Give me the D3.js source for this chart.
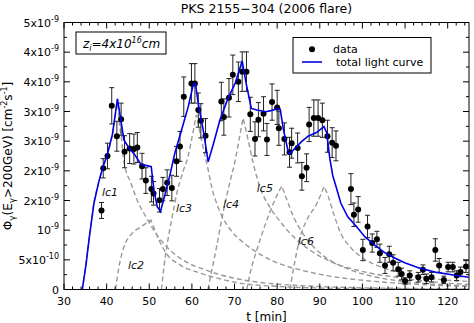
<!DOCTYPE html>
<html>
<head>
<meta charset="utf-8">
<script src="https://cdn.jsdelivr.net/npm/d3@7"></script>
<style>
  body { margin: 0; background: #fff; }
  svg { display: block; font-family: "DejaVu Sans", sans-serif; }
</style>
</head>
<body>
<script>
// PKS 2155-304, July 2006 flare: flux above 200 GeV in units of 1e-9 cm^-2 s^-1
const obsTime = [38.8, 39.2, 40.2, 41.2, 42.4, 43.4, 44.2, 45.4, 46.4, 47.2, 48.3, 49.2, 50.5, 51.0, 52.4, 53.2, 54.2, 55.3, 56.4, 57.2,
  58.1, 59.9, 60.7, 61.5, 62.1, 63.2, 66.9, 67.5, 68.7, 69.6, 70.9, 71.8, 72.8, 73.7, 74.8, 75.6, 76.8, 77.6, 78.8, 80.0,
  80.4, 81.7, 82.9, 83.4, 84.8, 85.8, 86.9, 87.5, 88.6, 89.6, 90.6, 91.8, 92.9, 93.8, 97.3, 98.0, 99.0, 100.1, 101.2, 102.3,
  103.4, 104.1, 105.3, 106.3, 107.2, 108.4, 109.2, 110.0, 111.1, 113.1, 114.2, 115.0, 116.2, 117.1, 118.0, 119.1, 120.1, 121.2, 122.1, 123.0, 124.3];
const obsFlux = [1.48, 2.27, 2.50, 3.44, 2.87, 3.19, 2.58, 2.64, 2.63, 2.66, 2.31, 2.04, 1.88, 1.80, 1.67, 1.88, 2.00, 1.90, 2.40, 2.68,
  3.61, 3.86, 3.86, 3.36, 3.16, 2.88, 3.52, 3.23, 3.59, 4.02, 3.89, 4.08, 4.08, 3.28, 2.82, 3.18, 3.29, 2.81, 3.51, 3.41,
  3.02, 2.82, 2.57, 2.74, 2.65, 2.12, 2.28, 3.09, 3.21, 3.21, 3.17, 2.87, 2.75, 2.69, 1.88, 1.40, 1.50, 0.74, 1.18, 0.87,
  0.94, 0.68, 0.45, 0.66, 0.50, 0.38, 0.29, 0.16, 0.26, 0.23, 0.37, 0.20, 0.23, 0.74, 0.45, 0.18, 0.42, 0.42, 0.26, 0.33, 0.43];
const obsErr = [0.15, 0.18, 0.24, 0.34, 0.28, 0.30, 0.30, 0.28, 0.28, 0.28, 0.24, 0.24, 0.24, 0.22, 0.22, 0.22, 0.24, 0.24, 0.28, 0.28,
  0.37, 0.37, 0.37, 0.32, 0.32, 0.32, 0.36, 0.34, 0.36, 0.37, 0.37, 0.37, 0.37, 0.32, 0.32, 0.32, 0.32, 0.30, 0.34, 0.32,
  0.32, 0.30, 0.28, 0.28, 0.28, 0.26, 0.26, 0.32, 0.34, 0.34, 0.32, 0.30, 0.28, 0.28, 0.29, 0.22, 0.24, 0.20, 0.21, 0.17,
  0.15, 0.17, 0.15, 0.15, 0.15, 0.13, 0.11, 0.06, 0.09, 0.09, 0.09, 0.09, 0.09, 0.21, 0.13, 0.07, 0.09, 0.09, 0.09, 0.09, 0.11];

// summed model
const totalTime = [34.29, 35.16, 35.86, 37.03, 38.20, 39.14, 40.08, 41.37, 42.54, 43.36, 44.06, 45.23, 46.64, 48.05, 49.45, 50.46,
  51.09, 51.87, 52.62, 53.67, 54.84, 56.02, 57.59, 59.13, 60.30, 60.82, 61.52, 62.65, 63.82, 64.99, 66.56, 68.32, 70.19, 71.79,
  72.73, 73.52, 73.95, 75.23, 77.34, 78.52, 79.85, 80.70, 81.49, 82.62, 82.97, 84.14, 85.71, 87.26, 89.23, 90.98, 91.64, 92.34,
  93.05, 93.91, 94.92, 96.56, 98.60, 100.55, 102.89, 105.23, 107.58, 109.92, 113.44, 117.42, 121.33, 124.92];
const totalFlux = [0, 0.46, 0.93, 1.62, 2.03, 2.30, 2.50, 2.91, 3.57, 3.16, 2.80, 2.65, 2.52, 2.34, 2.32, 2.30,
  1.86, 1.55, 1.46, 1.77, 2.14, 2.56, 2.99, 3.42, 3.83, 3.86, 3.47, 2.99, 2.39, 2.71, 3.17, 3.55, 3.87, 4.28,
  3.86, 3.55, 3.39, 3.36, 3.33, 3.35, 3.38, 3.38, 2.99, 2.57, 2.54, 2.64, 2.77, 2.87, 2.94, 3.05, 2.93, 2.46,
  2.13, 1.90, 1.62, 1.36, 1.18, 0.99, 0.83, 0.69, 0.59, 0.50, 0.40, 0.32, 0.27, 0.23];

// individual flare components lc1..lc6
const lc1Time = [34.29, 35.86, 37.03, 38.20, 39.14, 40.08, 41.37, 42.54, 42.89, 43.48, 44.06, 45.70, 47.34, 49.22, 51.80, 54.84, 58.36, 63.05, 68.91, 75.23, 85.31, 97.03, 108.75, 124.92];
const lc1Flux = [0, 0.93, 1.62, 2.03, 2.30, 2.50, 2.91, 3.57, 3.17, 2.84, 2.39, 1.99, 1.64, 1.36, 1.02, 0.74, 0.53, 0.37, 0.23, 0.14, 0.075, 0.037, 0.022, 0.01];
const lc2Time = [42.07, 42.89, 44.06, 45.63, 47.98, 50.39, 51.33, 52.50, 54.14, 57.19, 61.88, 66.56, 71.25, 80.63, 94.69, 124.92];
const lc2Flux = [0, 0.42, 0.80, 1.02, 1.17, 1.30, 1.11, 0.89, 0.66, 0.46, 0.31, 0.20, 0.12, 0.056, 0.022, 0.004];
const lc3Time = [52.85, 53.44, 54.21, 55.38, 56.55, 57.89, 59.06, 60.00, 61.05, 61.87, 62.65, 63.82, 64.69, 65.86, 67.27, 69.14, 72.19, 76.17, 80.63, 85.31, 92.34, 101.72, 113.44, 124.92];
const lc3Flux = [0, 0.42, 0.85, 1.36, 1.83, 2.20, 2.48, 2.84, 3.27, 2.95, 2.65, 2.24, 1.90, 1.60, 1.34, 1.11, 0.87, 0.65, 0.48, 0.37, 0.25, 0.16, 0.094, 0.056];
const lc4Time = [63.75, 64.69, 65.79, 67.34, 68.91, 70.08, 71.25, 72.02, 73.20, 74.37, 75.94, 78.28, 80.63, 83.67, 87.66, 92.34, 99.38, 108.75, 118.13, 124.92];
const lc4Flux = [0, 0.37, 0.80, 1.45, 2.01, 2.39, 2.89, 3.21, 2.80, 2.37, 1.92, 1.54, 1.28, 1.00, 0.74, 0.53, 0.35, 0.22, 0.13, 0.094];
const lc5Time = [72.89, 73.66, 75.23, 77.18, 79.15, 81.09, 82.27, 83.84, 85.78, 88.52, 92.34, 97.03, 103.36, 109.69, 118.13, 124.92];
const lc5Flux = [0, 0.31, 0.74, 1.21, 1.62, 1.94, 1.68, 1.36, 1.08, 0.80, 0.55, 0.37, 0.23, 0.15, 0.094, 0.066];
const lc6Time = [82.97, 84.21, 85.38, 86.95, 89.30, 91.01, 92.04, 93.21, 94.76, 97.10, 100.24, 104.13, 109.69, 115.78, 124.92];
const lc6Flux = [0, 0.55, 0.98, 1.30, 1.61, 1.93, 1.73, 1.43, 1.08, 0.80, 0.58, 0.43, 0.30, 0.21, 0.15];

const lcNames = ["lc1", "lc2", "lc3", "lc4", "lc5", "lc6"];
const lcLabelTime = [38.9, 45.0, 56.25, 67.27, 75.23, 84.84];
const lcLabelFlux = [1.75, 0.38, 1.45, 1.53, 1.83, 0.83];

const xTicks = [30, 40, 50, 60, 70, 80, 90, 100, 110, 120];
const yTickMant = ["0", "5x10", "10", "2x10", "2x10", "3x10", "3x10", "4x10", "4x10", "5x10"];
const yTickExp = ["", "-10", "-9", "-9", "-9", "-9", "-9", "-9", "-9", "-9"];

const W = 474, H = 323;
const m = { left: 64, right: 5, top: 22.5, bottom: 33.5 };

const svg = d3.select("body").append("svg")
  .attr("width", W)
  .attr("height", H);

const x = d3.scaleLinear().domain([30, 125]).range([m.left, W - m.right]);
const y = d3.scaleLinear().domain([0, 5]).range([H - m.bottom, m.top]);

const yStep = 5 / 9;
const yMajor = d3.range(10).map(i => i * yStep);
const yMinor = d3.range(9).map(i => (i + 0.5) * yStep);
const xMinor = d3.range(30, 126, 2).filter(v => v % 10 !== 0);

const plot = svg.append("g");

plot.append("defs").append("clipPath").attr("id", "clip")
  .append("rect")
  .attr("x", x(30)).attr("y", y(5))
  .attr("width", x(125) - x(30)).attr("height", y(0) - y(5));

const line = d3.line().x(d => x(d[0])).y(d => y(d[1]));

// components: rising branch and decaying branch joined at the cusp
const comps = [[lc1Time, lc1Flux], [lc2Time, lc2Flux], [lc3Time, lc3Flux], [lc4Time, lc4Flux], [lc5Time, lc5Flux], [lc6Time, lc6Flux]];
const smooth = d3.line().x(d => x(d[0])).y(d => y(d[1])).curve(d3.curveMonotoneX);
const gComp = plot.append("g").attr("clip-path", "url(#clip)");
comps.forEach(([ts, fs]) => {
  const pts = ts.map((t, i) => [t, fs[i]]);
  const k = d3.maxIndex(fs);
  const d = smooth(pts.slice(0, k + 1)) + smooth(pts.slice(k)).replace(/^M/, "L");
  gComp.append("path")
    .attr("d", d)
    .attr("fill", "none")
    .attr("stroke", "#999")
    .attr("stroke-width", 1.4)
    .attr("stroke-dasharray", "5,3");
});

// error bars and points
const obs = obsTime.map((t, i) => ({ t, f: obsFlux[i], e: obsErr[i] }));
const gObs = plot.append("g");
gObs.selectAll("line.eb").data(obs).join("line")
  .attr("x1", d => x(d.t)).attr("x2", d => x(d.t))
  .attr("y1", d => y(Math.max(0, d.f - d.e))).attr("y2", d => y(d.f + d.e))
  .attr("stroke", "#222").attr("stroke-width", 1);
[-1, 1].forEach(s => {
  gObs.selectAll("line.cap" + s).data(obs).join("line")
    .attr("x1", d => x(d.t) - 2.5).attr("x2", d => x(d.t) + 2.5)
    .attr("y1", d => y(Math.max(0, d.f + s * d.e))).attr("y2", d => y(Math.max(0, d.f + s * d.e)))
    .attr("stroke", "#222").attr("stroke-width", 1);
});
gObs.selectAll("circle").data(obs).join("circle")
  .attr("cx", d => x(d.t)).attr("cy", d => y(d.f))
  .attr("r", 3).attr("fill", "#000");

// total light curve
plot.append("path")
  .datum(totalTime.map((t, i) => [t, totalFlux[i]]))
  .attr("d", line)
  .attr("clip-path", "url(#clip)")
  .attr("fill", "none")
  .attr("stroke", "#0000e6")
  .attr("stroke-width", 1.6);

// component labels
lcNames.forEach((n, i) => {
  plot.append("text")
    .attr("x", x(lcLabelTime[i])).attr("y", y(lcLabelFlux[i]))
    .attr("font-size", 11).attr("font-style", "italic")
    .attr("fill", "#111")
    .text(n);
});

// frame and inward ticks on all sides
const x0 = x(30), x1 = x(125), y0 = y(0), y1 = y(5);
const ticks = svg.append("g").attr("stroke", "#000").attr("stroke-width", 1);
xTicks.forEach(v => {
  ticks.append("line").attr("x1", x(v)).attr("x2", x(v)).attr("y1", y0).attr("y2", y0 - 6);
  ticks.append("line").attr("x1", x(v)).attr("x2", x(v)).attr("y1", y1).attr("y2", y1 + 6);
});
xMinor.forEach(v => {
  ticks.append("line").attr("x1", x(v)).attr("x2", x(v)).attr("y1", y0).attr("y2", y0 - 3);
  ticks.append("line").attr("x1", x(v)).attr("x2", x(v)).attr("y1", y1).attr("y2", y1 + 3);
});
yMajor.forEach(v => {
  ticks.append("line").attr("x1", x0).attr("x2", x0 + 6).attr("y1", y(v)).attr("y2", y(v));
  ticks.append("line").attr("x1", x1).attr("x2", x1 - 6).attr("y1", y(v)).attr("y2", y(v));
});
yMinor.forEach(v => {
  ticks.append("line").attr("x1", x0).attr("x2", x0 + 3).attr("y1", y(v)).attr("y2", y(v));
  ticks.append("line").attr("x1", x1).attr("x2", x1 - 3).attr("y1", y(v)).attr("y2", y(v));
});
svg.append("rect")
  .attr("x", x0).attr("y", y1)
  .attr("width", x1 - x0).attr("height", y0 - y1)
  .attr("fill", "none").attr("stroke", "#000").attr("stroke-width", 1);

// tick labels
xTicks.forEach(v => {
  svg.append("text")
    .attr("x", x(v)).attr("y", y0 + 15)
    .attr("text-anchor", "middle").attr("font-size", 11)
    .text(v);
});
yMajor.forEach((v, i) => {
  const t = svg.append("text")
    .attr("x", x0 - 5).attr("y", y(v) + 4)
    .attr("text-anchor", "end").attr("font-size", 11);
  t.append("tspan").text(yTickMant[i]);
  if (yTickExp[i]) t.append("tspan").attr("dy", -5).attr("font-size", 8).text(yTickExp[i]);
});

// title and axis titles
svg.append("text")
  .attr("x", (x0 + x1) / 2).attr("y", 13)
  .attr("text-anchor", "middle").attr("font-size", 12.5)
  .text("PKS 2155\u2212304 (2006 flare)");

svg.append("text")
  .attr("x", (x0 + x1) / 2).attr("y", 321)
  .attr("text-anchor", "middle").attr("font-size", 12)
  .text("t [min]");

const yl = svg.append("text")
  .attr("transform", `translate(12,${(y0 + y1) / 2}) rotate(-90)`)
  .attr("text-anchor", "middle").attr("font-size", 12);
yl.append("tspan").text("\u03A6");
yl.append("tspan").attr("dy", 3).attr("font-size", 9).text("\u03B3");
yl.append("tspan").attr("dy", -3).text("(E");
yl.append("tspan").attr("dy", 3).attr("font-size", 9).text("\u03B3");
yl.append("tspan").attr("dy", -3).text(">200GeV) [cm");
yl.append("tspan").attr("dy", -5).attr("font-size", 8).text("-2");
yl.append("tspan").attr("dy", 5).text("s");
yl.append("tspan").attr("dy", -5).attr("font-size", 8).text("-1");
yl.append("tspan").attr("dy", 5).text("]");

// emission-region size box
svg.append("rect")
  .attr("x", 76).attr("y", 32).attr("width", 90).attr("height", 22)
  .attr("fill", "#fff").attr("stroke", "#000").attr("stroke-width", 1);
const zt = svg.append("text")
  .attr("x", 83).attr("y", 48)
  .attr("font-size", 12).attr("font-style", "italic");
zt.append("tspan").text("z");
zt.append("tspan").attr("dy", 3).attr("font-size", 8).text("i");
zt.append("tspan").attr("dy", -3).text("=4x10");
zt.append("tspan").attr("dy", -5).attr("font-size", 8).text("16");
zt.append("tspan").attr("dy", 5).text("cm");

// legend
const lg = svg.append("g");
lg.append("rect")
  .attr("x", 293).attr("y", 37.5).attr("width", 138).attr("height", 35.5)
  .attr("fill", "#fff").attr("stroke", "#000").attr("stroke-width", 1);
lg.append("circle").attr("cx", 312).attr("cy", 49.3).attr("r", 3).attr("fill", "#000");
lg.append("text").attr("x", 333).attr("y", 53).attr("font-size", 11).text("data");
lg.append("line").attr("x1", 302).attr("x2", 322).attr("y1", 62).attr("y2", 62)
  .attr("stroke", "#0000e6").attr("stroke-width", 1.6);
lg.append("text").attr("x", 336).attr("y", 66).attr("font-size", 11).text("total light curve");
</script>
</body>
</html>
